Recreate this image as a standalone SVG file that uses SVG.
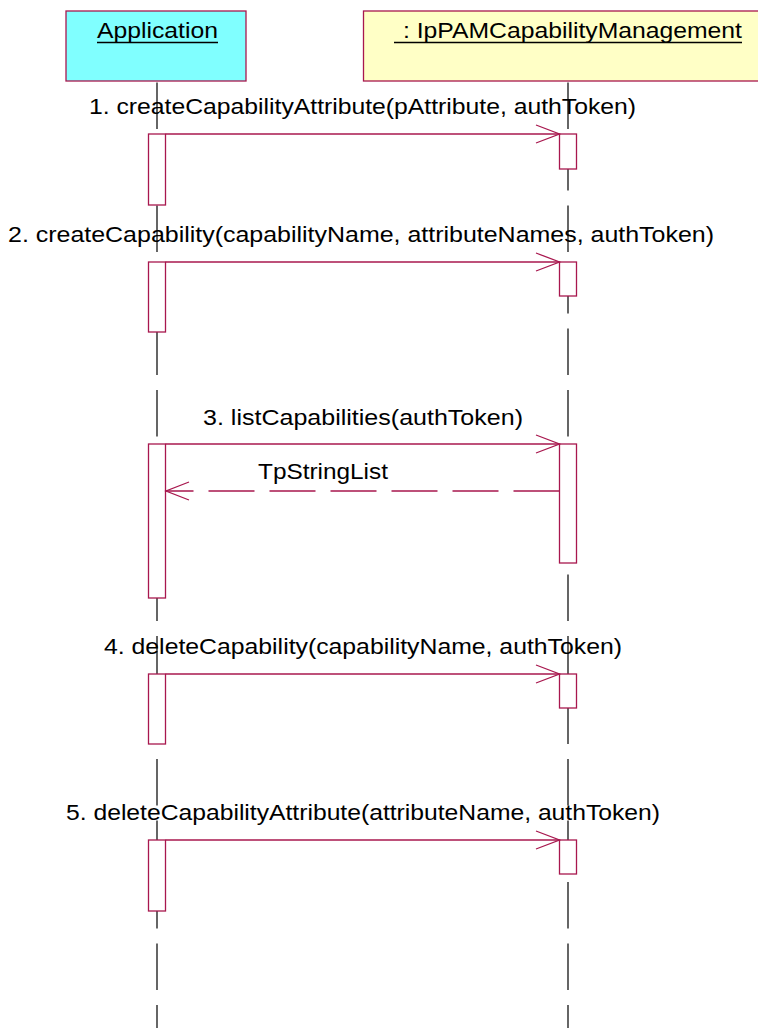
<svg xmlns="http://www.w3.org/2000/svg" width="758" height="1028" viewBox="0 0 758 1028">
<style>
text{font-family:"Liberation Sans",Arial,sans-serif;font-size:22px;fill:#000}
.life{stroke:#000;stroke-width:1.2;stroke-dasharray:46.5 15;fill:none}
.act{fill:#fff;stroke:#A8174E;stroke-width:1.3}
.msg{stroke:#A8174E;stroke-width:1.3;fill:none}
.ret{stroke:#A8174E;stroke-width:1.3;fill:none;stroke-dasharray:46 15}
.ul{stroke:#000;stroke-width:1.5}
</style>
<rect width="758" height="1028" fill="#fff"/>
<g id="lifelines">
<line class="life" x1="157" y1="82.5" x2="157" y2="1028"/>
<line class="life" x1="568" y1="82.5" x2="568" y2="1028"/>
</g>
<g id="app">
<rect x="66" y="11" width="180" height="70" fill="#80FFFF" stroke="#A8174E" stroke-width="1.3"/>
<text x="97" y="38" textLength="121" lengthAdjust="spacingAndGlyphs">Application</text>
<line class="ul" x1="97" y1="42.5" x2="218" y2="42.5"/>
</g>
<g id="mgr">
<rect x="363.5" y="11" width="396" height="70" fill="#FFFFC6" stroke="#A8174E" stroke-width="1.3"/>
<text x="403" y="38" textLength="339" lengthAdjust="spacingAndGlyphs">: IpPAMCapabilityManagement</text>
<line class="ul" x1="394" y1="42.5" x2="742" y2="42.5"/>
</g>
<g id="activations">
<rect class="act" x="148.5" y="134" width="17" height="71"/>
<rect class="act" x="559.5" y="134" width="17" height="35"/>
<rect class="act" x="148.5" y="262" width="17" height="70"/>
<rect class="act" x="559.5" y="262" width="17" height="34"/>
<rect class="act" x="148.5" y="444" width="17" height="154"/>
<rect class="act" x="559.5" y="444" width="17" height="119"/>
<rect class="act" x="148.5" y="674" width="17" height="70"/>
<rect class="act" x="559.5" y="674" width="17" height="34"/>
<rect class="act" x="148.5" y="840" width="17" height="71"/>
<rect class="act" x="559.5" y="840" width="17" height="34"/>
</g>
<g id="connectors">
<line class="msg" x1="165.5" y1="134" x2="559.5" y2="134"/>
<polyline class="msg" points="536,125 559.5,134 536,143"/>
<line class="msg" x1="165.5" y1="262" x2="559.5" y2="262"/>
<polyline class="msg" points="536,253 559.5,262 536,271"/>
<line class="msg" x1="165.5" y1="444" x2="559.5" y2="444"/>
<polyline class="msg" points="536,435 559.5,444 536,453"/>
<line class="ret" x1="559.5" y1="491" x2="166" y2="491"/>
<polyline class="msg" points="189,482 166,491 189,500"/>
<line class="msg" x1="165.5" y1="674" x2="559.5" y2="674"/>
<polyline class="msg" points="536,665 559.5,674 536,683"/>
<line class="msg" x1="165.5" y1="840" x2="559.5" y2="840"/>
<polyline class="msg" points="536,831 559.5,840 536,849"/>
</g>
<g id="labels">
<text x="89" y="114" textLength="547" lengthAdjust="spacingAndGlyphs">1. createCapabilityAttribute(pAttribute, authToken)</text>
<text x="8" y="242" textLength="706" lengthAdjust="spacingAndGlyphs">2. createCapability(capabilityName, attributeNames, authToken)</text>
<text x="203" y="425" textLength="320" lengthAdjust="spacingAndGlyphs">3. listCapabilities(authToken)</text>
<text x="258" y="479" textLength="130" lengthAdjust="spacingAndGlyphs">TpStringList</text>
<text x="104" y="654" textLength="518" lengthAdjust="spacingAndGlyphs">4. deleteCapability(capabilityName, authToken)</text>
<text x="66" y="820" textLength="594" lengthAdjust="spacingAndGlyphs">5. deleteCapabilityAttribute(attributeName, authToken)</text>
</g>
</svg>
